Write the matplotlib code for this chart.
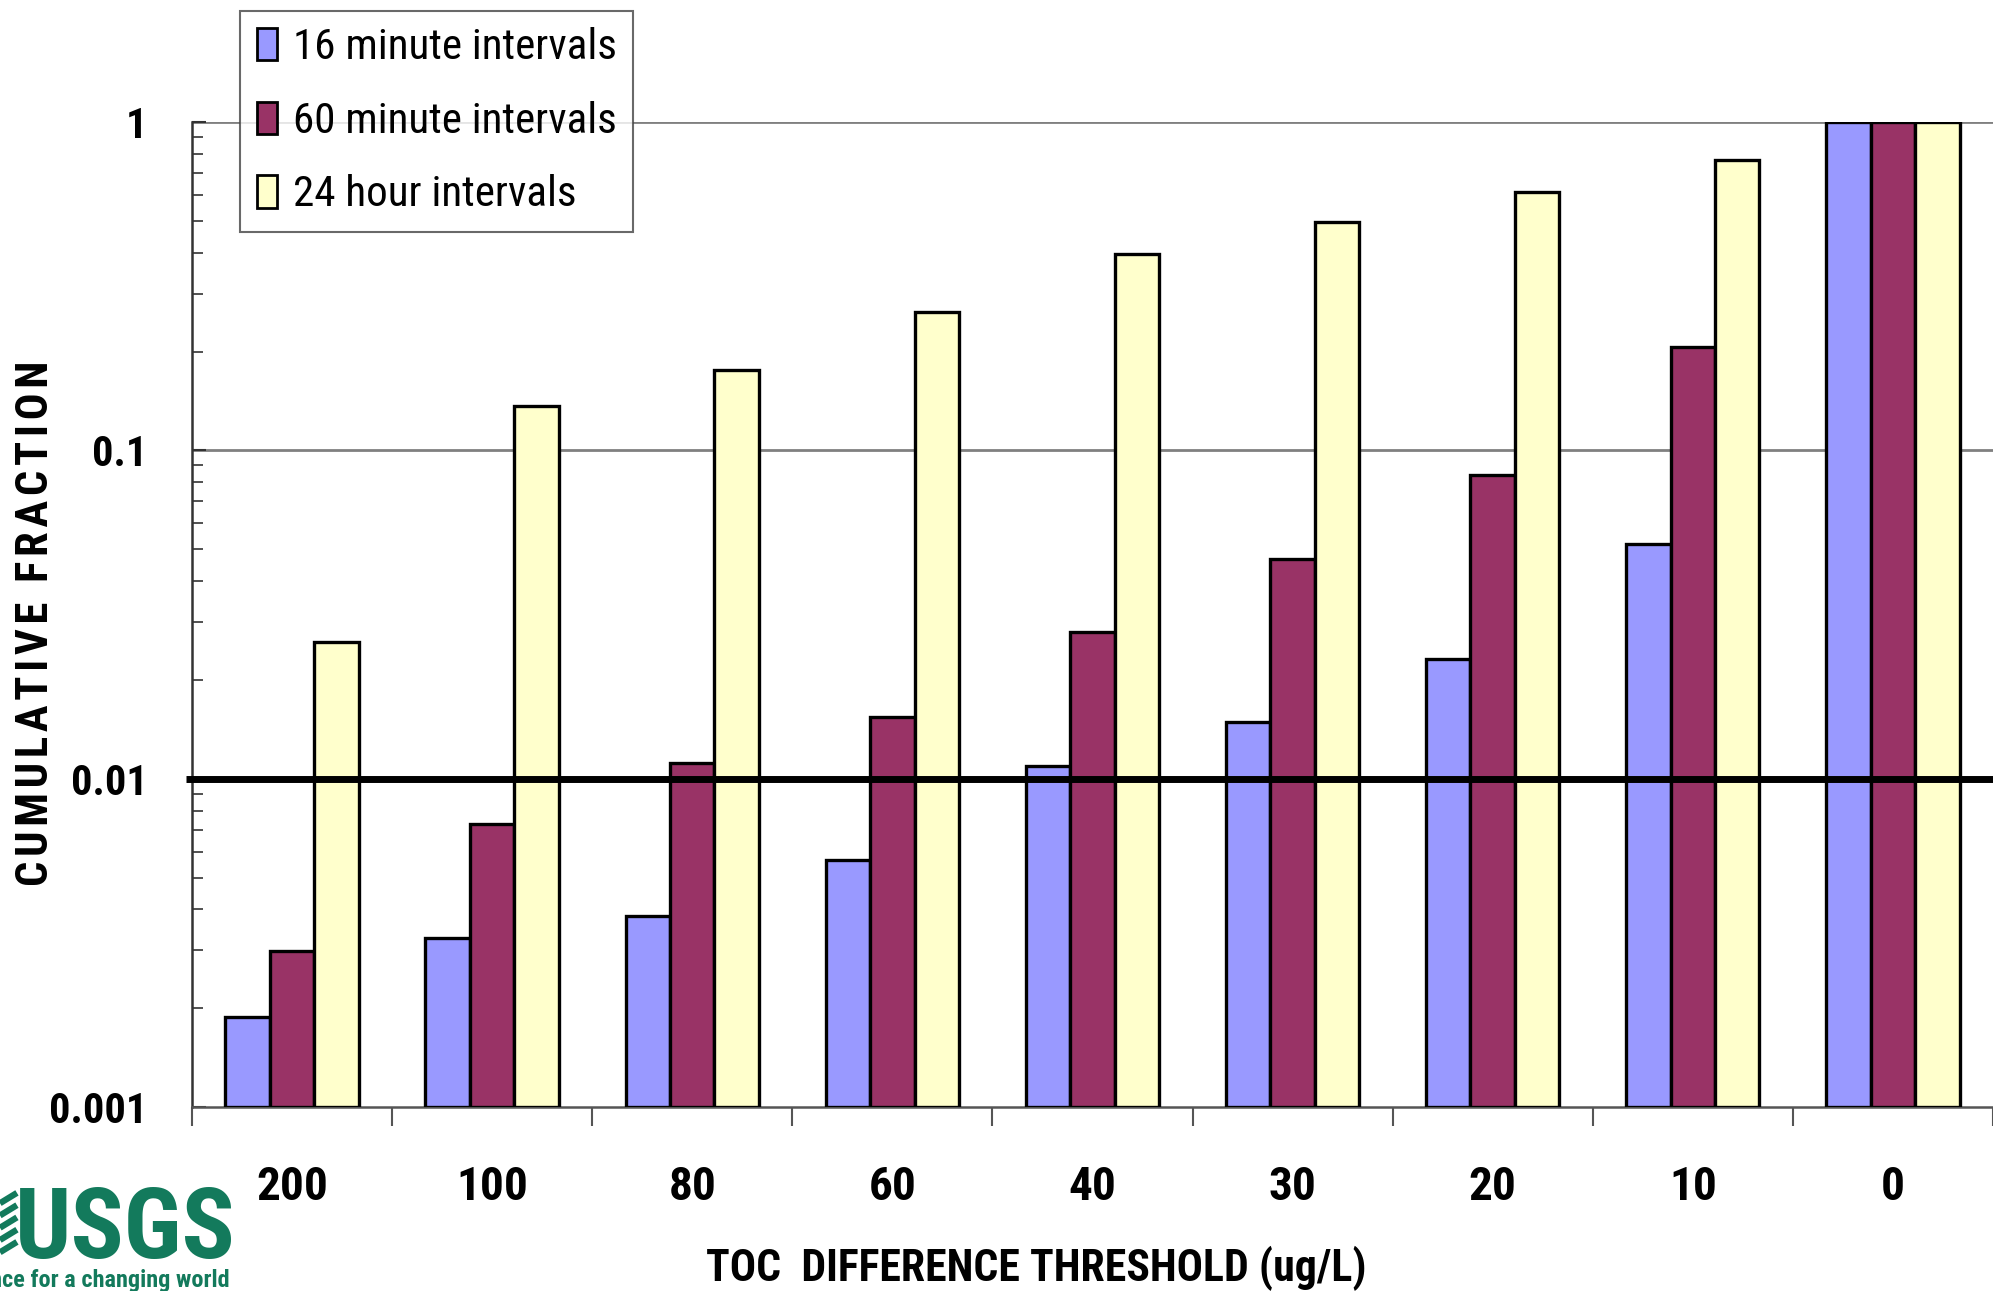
import matplotlib
matplotlib.use("Agg")
import matplotlib.pyplot as plt
import numpy as np
from matplotlib import font_manager
from matplotlib.font_manager import FontProperties
from matplotlib.ft2font import FT2Font

# Cumulative fraction of TOC differences exceeding each threshold
thresholds = ["200", "100", "80", "60", "40", "30", "20", "10", "0"]
series_names = ["16 minute intervals", "60 minute intervals", "24 hour intervals"]
frac_16min = [0.00188, 0.00327, 0.00381, 0.00564, 0.0109, 0.0149, 0.0231, 0.0519, 1.0]
frac_60min = [0.00299, 0.0073, 0.0112, 0.0154, 0.0280, 0.0466, 0.0839, 0.206, 1.0]
frac_24hr = [0.0261, 0.136, 0.176, 0.263, 0.396, 0.495, 0.612, 0.765, 1.0]
reference_level = 0.01

colors = ["#9999FF", "#993366", "#FFFFCC"]


def _weight(e):
    w = e.weight
    if isinstance(w, str):
        w = font_manager.weight_dict.get(w, 400)
    return w


def _is_narrow(e):
    tag = (e.name + " " + e.fname).lower()
    if "extra" in tag or "ultra" in tag or "semi" in tag:
        return False
    return "narrow" in tag or "condensed" in tag or e.stretch in ("condensed", 300)


def find_narrow(bold):
    prefs = ["liberation sans narrow", "arial narrow", "roboto condensed", "noto sans",
             "dejavu sans", "open sans", "liberation", "roboto", "lato", "inter"]
    best = None
    for e in font_manager.fontManager.ttflist:
        if not _is_narrow(e) or e.style != "normal":
            continue
        w = _weight(e)
        if bold and w < 600:
            continue
        if not bold and not (300 <= w <= 500):
            continue
        name = e.name.lower()
        rank = next((i for i, p in enumerate(prefs) if name.startswith(p)), len(prefs))
        key = (rank, abs(w - (700 if bold else 400)))
        if best is None or key < best[0]:
            best = (key, e.fname)
    return best[1] if best else None


bold_file = find_narrow(True)
reg_file = find_narrow(False)
fp_bold = FontProperties(fname=bold_file) if bold_file else FontProperties(family="Liberation Sans", weight="bold")
fp_reg = FontProperties(fname=reg_file) if reg_file else FontProperties(family="Liberation Sans")


def fprop(base, size, style=None):
    p = base.copy()
    p.set_size(size)
    if style:
        p.set_style(style)
    return p


# narrow gap used to letter-space the vertical axis title
gap = " "
if bold_file:
    cmap = FT2Font(bold_file).get_charmap()
    for cand in ("\u200a", "\u2009"):
        if ord(cand) in cmap:
            gap = cand
            break


def spaced(word):
    return gap.join(word)


ylabel_text = (gap + " " + gap).join(spaced(w) for w in "CUMULATIVE FRACTION".split())

fig = plt.figure(figsize=(19.93, 12.91), dpi=100)
ax = fig.add_axes([0.0963, 0.1425, 1.0 - 0.0963, 0.9055 - 0.1425])

x = np.arange(len(thresholds))
width = 0.222
bottom = 0.001
for i, (vals, name, c) in enumerate(zip([frac_16min, frac_60min, frac_24hr], series_names, colors)):
    heights = np.array(vals) - bottom
    ax.bar(x + (i - 1) * width, heights, width, bottom=bottom, color=c,
           edgecolor="black", linewidth=2.4, label=name, zorder=3)

ax.set_yscale("log")
ax.set_ylim(0.001, 1.0)
ax.set_xlim(-0.5, len(thresholds) - 0.5)

# horizontal gridlines at 1 and 0.1
for g in [1.0, 0.1]:
    ax.axhline(g, color="#808080", linewidth=2.0, zorder=1)
# reference line at 1 %
ax.plot([-0.53, len(thresholds) - 0.5], [reference_level, reference_level], color="black",
        linewidth=5.0, zorder=5, clip_on=False, solid_capstyle="butt")

for s in ["top", "right"]:
    ax.spines[s].set_visible(False)
ax.spines["left"].set_color("#333333")
ax.spines["left"].set_linewidth(1.8)
ax.spines["bottom"].set_color("#555555")
ax.spines["bottom"].set_linewidth(1.8)

ax.set_yticks([0.001, 0.01, 0.1, 1])
ax.set_yticklabels(["0.001", "0.01", "0.1", "1"], fontproperties=fprop(fp_bold, 30.5))
ax.yaxis.set_minor_locator(matplotlib.ticker.LogLocator(base=10, subs=np.arange(2, 10)))
ax.yaxis.set_minor_formatter(matplotlib.ticker.NullFormatter())
ax.tick_params(axis="y", which="major", direction="in", length=10, width=1.5, pad=32, color="#333333")
ax.tick_params(axis="y", which="minor", direction="in", length=8, width=1.2, color="#333333")

ax.set_xticks(np.arange(len(thresholds) + 1) - 0.5)
ax.set_xticklabels([])
ax.set_xticks(x, minor=True)
ax.set_xticklabels(thresholds, minor=True, fontproperties=fprop(fp_bold, 34))
ax.tick_params(axis="x", which="major", direction="out", length=14, width=1.5, color="#555555")
ax.tick_params(axis="x", which="minor", length=0, pad=42)

fig.text(0.018, 0.517, ylabel_text, rotation=90,
         fontproperties=fprop(fp_bold, 32), ha="center", va="center")
fig.text(0.520, 0.0, "TOC  DIFFERENCE THRESHOLD (ug/L)", fontproperties=fprop(fp_bold, 31.5),
         ha="center", va="bottom")

leg = ax.legend(loc="upper left", bbox_to_anchor=(0.0268, 1.113), prop=fprop(fp_reg, 31),
                frameon=True, fancybox=False, edgecolor="#444444", handlelength=0.47,
                handleheight=0.78, handletextpad=0.38, borderpad=0.38, labelspacing=0.76,
                borderaxespad=0)
leg.get_frame().set_linewidth(1.5)
for h in leg.legend_handles:
    h.set_linewidth(2.0)

# agency mark in the lower-left corner
green = "#137a5c"
fig.text(0.0075, 0.0256, "USGS", fontproperties=fprop(fp_bold, 71), color=green,
         ha="left", va="baseline")
for k in range(5):
    yk = 0.030 + k * 0.0095
    fig.add_artist(plt.Line2D([0.0, 0.0085], [yk, yk + 0.008], color=green, linewidth=4.5,
                              transform=fig.transFigure, solid_capstyle="butt"))
fig.text(0.115, 0.003, "science for a changing world", fontproperties=fprop(fp_bold, 17.5, "italic"),
         color=green, ha="right", va="baseline")

fig.savefig("out.png", dpi=100)
